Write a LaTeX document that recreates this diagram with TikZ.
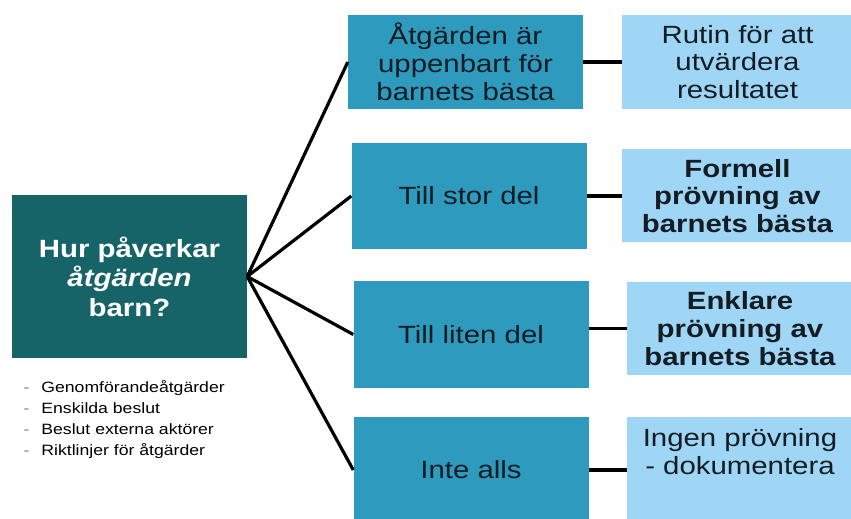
\documentclass[tikz,border=0pt]{standalone}
\usepackage{fontspec}
\setmainfont{Liberation Sans}[FakeStretch=1.18]
\usepackage{tikz}

\definecolor{darkteal}{HTML}{166468}
\definecolor{midteal}{HTML}{2E9BBE}
\definecolor{lightsky}{HTML}{A0D6F5}
\definecolor{inktext}{HTML}{141C24}

\begin{document}
\begin{tikzpicture}[x=1bp, y=-1bp,
    every node/.style={font=\fontsize{25}{28}\selectfont, text=inktext},
    question/.style={fill=darkteal, minimum width=235bp, minimum height=163bp, align=center, inner sep=0pt, text=white, font=\fontsize{25}{29.5}\selectfont\bfseries},
    degree/.style={fill=midteal, minimum width=235bp, align=center, inner sep=0pt},
    review/.style={fill=lightsky, minimum width=231bp, align=center, inner sep=0pt},
    link/.style={line width=3.2bp, black}
]

\useasboundingbox (0,0) rectangle (851,519);
\clip (0,0) rectangle (851,519);
\fill[white] (0,0) rectangle (851,519);

\node[question] (q) at (129.5,276.5) {Hur påverkar\\\textit{åtgärden}\\barn?};

\node[anchor=north west, align=left, font=\fontsize{15}{21}\selectfont, text=black] (kinds) at (20,377)
{{\color{gray}-}\hspace{12bp}Genomförandeåtgärder\\
 {\color{gray}-}\hspace{12bp}Enskilda beslut\\
 {\color{gray}-}\hspace{12bp}Beslut externa aktörer\\
 {\color{gray}-}\hspace{12bp}Riktlinjer för åtgärder};

\node[degree, minimum height=94bp]  (d1) at (465.5,62)  {Åtgärden är\\uppenbart för\\barnets bästa};
\node[degree, minimum height=106bp] (d2) at (469,196)   {Till stor del};
\node[degree, minimum height=107bp] (d3) at (471,334.5) {Till liten del};
\node[degree, minimum height=106bp] (d4) at (471,470)   {Inte alls};

\node[review, minimum height=94bp] (r1) at (737.5,62)    {Rutin för att\\utvärdera\\resultatet};
\node[review, minimum height=93bp] (r2) at (737.5,196) {\textbf{Formell}\\\textbf{prövning av}\\\textbf{barnets bästa}};
\node[review, minimum width=226bp, minimum height=93bp] (r3) at (740,328.5) {\textbf{Enklare}\\\textbf{prövning av}\\\textbf{barnets bästa}};
\node[review, minimum width=226bp, minimum height=106bp] (r4) at (740,470) {};
\node[align=center] (r4text) at (740,452) {Ingen prövning\\- dokumentera};

\draw[link] (q.east) -- (d1.west);
\draw[link] (q.east) -- (d2.west);
\draw[link] (q.east) -- (d3.west);
\draw[link] (q.east) -- (d4.west);

\draw[link] (d1.east) -- (r1.west);
\draw[link] (d2.east) -- (r2.west);
\draw[link] (r3.west -| d3.east) -- (r3.west);
\draw[link] (d4.east) -- (r4.west);

\end{tikzpicture}
\end{document}
